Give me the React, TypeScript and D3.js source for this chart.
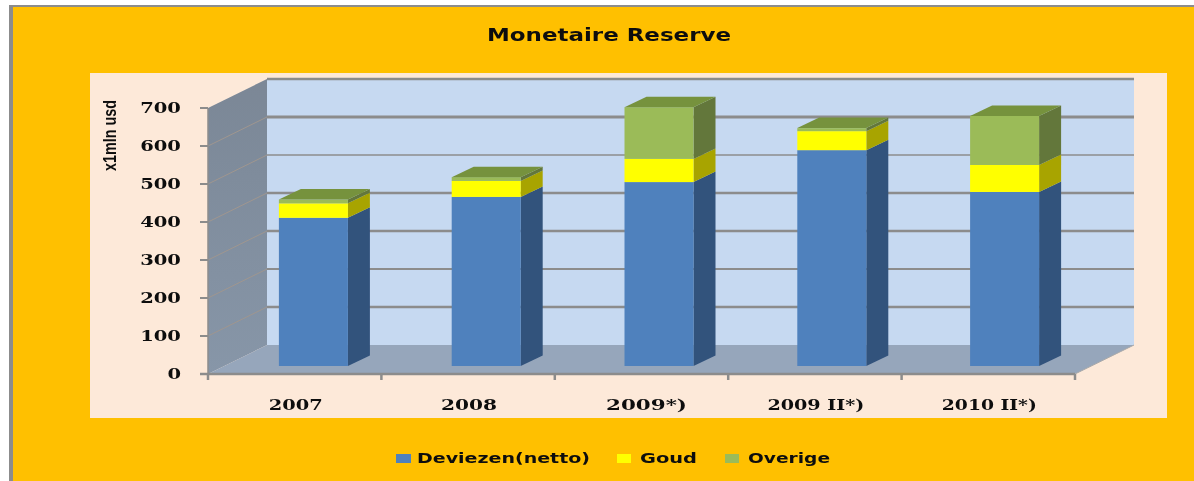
import React from "react";
import * as d3 from "d3";

const categories = ["2007", "2008", "2009*)", "2009 II*)", "2010 II*)"];
const deviezen = [390, 445, 484, 568, 458];
const goud = [38, 42, 61, 50, 71];
const overige = [10, 10, 136, 8, 129];
const seriesNames = ["Deviezen(netto)", "Goud", "Overige"];
const yTicks = [0, 100, 200, 300, 400, 500, 600, 700];

const faceColors = ["#4f81bd", "#ffff00", "#9bbb59"];
const sideColors = ["#31527c", "#a8a400", "#64773a"];
const topColor = "#76923c";
const catWidths = [54, 56, 81, 97, 95];
const gridWidths: Record<number, number> = { 100: 2.6, 200: 2, 300: 2.6, 400: 2.6, 500: 1.6, 600: 3, 700: 2.4 };
const legendLayout = [
  { sx: 396, sw: 15, tx: 417, tw: 173 },
  { sx: 617, sw: 14, tx: 640, tw: 57 },
  { sx: 725, sw: 14, tx: 748, tw: 82 },
];

const W = 1194;
const H = 481;
const depthX = 59;
const depthY = 29;
const barDX = 22;
const barDY = 10.5;
const barLift = 8;

export default function App() {
  const y = d3.scaleLinear().domain([0, 700]).range([374, 108]);
  const xAxis = d3.scaleBand<number>().domain(d3.range(categories.length)).range([208, 1075]);
  const xBar = d3.scaleBand<number>().domain(d3.range(categories.length)).range([227, 1091]).paddingInner(0.6).paddingOuter(0.3);
  const rows = categories.map((c, i) => ({ i, a: deviezen[i], b: goud[i], c: overige[i] }));
  const stacked = d3.stack<any>().keys(["a", "b", "c"])(rows);
  const barW = 69;
  const font = "'DejaVu Sans', sans-serif";
  const serif = "'DejaVu Serif', serif";
  const left = xAxis(0)!;
  const right = xAxis.range()[1];
  const poly = (pts: number[][]) => pts.map((p) => p.join(",")).join(" ");

  return (
    <svg width={W} height={H} viewBox={`0 0 ${W} ${H}`} style={{ position: "absolute", left: 0, top: 0, display: "block" }}>
      <defs>
        <filter id="soft" x="-5%" y="-20%" width="110%" height="140%">
          <feGaussianBlur stdDeviation="0.45" />
        </filter>
        <filter id="edge" x="-5%" y="-5%" width="110%" height="110%">
          <feGaussianBlur stdDeviation="0.35" />
        </filter>
        <linearGradient id="wall" x1="0" y1="0" x2="0" y2="1">
          <stop offset="0" stopColor="#7b8796" />
          <stop offset="1" stopColor="#8796a8" />
        </linearGradient>
      </defs>
      <rect width={W} height={H} fill="#ffffff" />
      <rect x={9} y={5} width={W - 9} height={H - 5} fill="#8c8c8c" />
      <rect x={13} y={7} width={W - 13} height={H - 7} fill="#ffc000" />
      <rect x={90} y={73} width={1077} height={345} fill="#fde9d9" />

      <text x={609} y={41} fontFamily={font} fontWeight={700} fontSize={18} textAnchor="middle" textLength={244} lengthAdjust="spacingAndGlyphs" fill="#111" filter="url(#soft)">
        Monetaire Reserve
      </text>

      <g filter="url(#edge)">
        <rect x={left + depthX} y={y(700) - depthY} width={right - left} height={y(0) - y(700)} fill="#c6d9f1" />
        <polygon points={poly([[left, y(700)], [left + depthX, y(700) - depthY], [left + depthX, y(0) - depthY], [left, y(0)]])} fill="url(#wall)" />
        <polygon points={poly([[left, y(0)], [left + depthX, y(0) - depthY], [right + depthX, y(0) - depthY], [right, y(0)]])} fill="#96a6bb" />
        {yTicks.map((t) => (
          <g key={t}>
            {t > 0 && <line x1={left + depthX} x2={right + depthX} y1={y(t) - depthY} y2={y(t) - depthY} stroke="#8c8c8c" strokeWidth={gridWidths[t]} />}
            {t > 0 && t < 700 && <line x1={left} x2={left + depthX} y1={y(t)} y2={y(t) - depthY} stroke="#9f968f" strokeWidth={1} />}
          </g>
        ))}
        <line x1={left} x2={left} y1={y(700)} y2={y(0)} stroke="#8c8c8c" strokeWidth={1.5} />
        <line x1={right} x2={right + depthX} y1={y(0)} y2={y(0) - depthY} stroke="#a9a9a9" strokeWidth={1} />
        <line x1={left - 8} x2={right} y1={y(0)} y2={y(0)} stroke="#8c8c8c" strokeWidth={2.5} />
        {yTicks.map((t) => (
          <line key={t} x1={left - 8} x2={left} y1={y(t)} y2={y(t)} stroke="#8c8c8c" strokeWidth={2} />
        ))}
        {d3.range(categories.length + 1).map((i) => {
          const x = i < categories.length ? xAxis(i)! : right;
          return <line key={i} x1={x} x2={x} y1={y(0)} y2={y(0) + 6} stroke="#8c8c8c" strokeWidth={2.5} />;
        })}

        {rows.map((r) => {
          const x0 = xBar(r.i)! + xBar.bandwidth() / 2 - barW / 2;
          const x1 = x0 + barW;
          return (
            <g key={r.i}>
              {stacked.map((s, k) => {
                const yb = y(s[r.i][0]) - barLift;
                const yt = y(s[r.i][1]) - barLift;
                return (
                  <g key={k}>
                    <polygon points={poly([[x1, yb], [x1 + barDX, yb - barDY], [x1 + barDX, yt - barDY], [x1, yt]])} fill={sideColors[k]} />
                    <rect x={x0} y={yt} width={barW} height={yb - yt} fill={faceColors[k]} />
                  </g>
                );
              })}
              {(() => {
                const yt = y(stacked[2][r.i][1]) - barLift;
                return <polygon points={poly([[x0, yt], [x0 + barDX, yt - barDY], [x1 + barDX, yt - barDY], [x1, yt]])} fill={topColor} />;
              })()}
            </g>
          );
        })}
      </g>

      <g filter="url(#soft)" fontWeight={700} fill="#111">
        {yTicks.map((t) => {
          const s = String(t);
          return (
            <text key={t} x={181} y={y(t) + 5} textAnchor="end" fontFamily={serif} fontSize={14} textLength={s.length * 13.6} lengthAdjust="spacingAndGlyphs">
              {s}
            </text>
          );
        })}
        {categories.map((c, i) => (
          <text key={c} x={xAxis(i)! + xAxis.bandwidth() / 2 + (i === 2 ? 5 : 1)} y={410} textAnchor="middle" fontFamily={serif} fontSize={14} textLength={catWidths[i]} lengthAdjust="spacingAndGlyphs">
            {c}
          </text>
        ))}
        <text transform="translate(116,171) rotate(-90)" fontFamily="'Liberation Sans', sans-serif" fontSize={18} textLength={71} lengthAdjust="spacingAndGlyphs">
          x1mln usd
        </text>
        {seriesNames.map((n, i) => (
          <text key={n} x={legendLayout[i].tx} y={463} fontFamily={font} fontSize={14} textLength={legendLayout[i].tw} lengthAdjust="spacingAndGlyphs">
            {n}
          </text>
        ))}
      </g>
      {seriesNames.map((n, i) => (
        <rect key={n} x={legendLayout[i].sx} y={454} width={legendLayout[i].sw} height={9} fill={faceColors[i]} />
      ))}
    </svg>
  );
}
